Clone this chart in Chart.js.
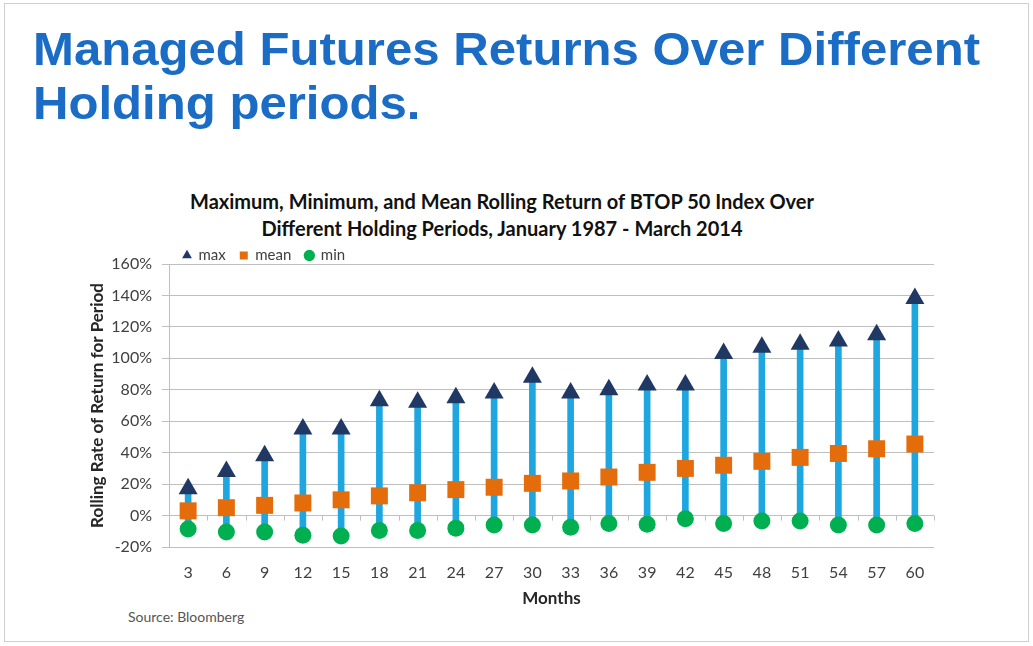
<!DOCTYPE html>
<html>
<head>
<meta charset="utf-8">
<script src="https://cdn.jsdelivr.net/npm/chart.js@4.4.1/dist/chart.umd.min.js"></script>
<style>
  html, body { margin: 0; padding: 0; background: #fff; }
  body { width: 1033px; height: 646px; position: relative; overflow: hidden; }
  .frame { position: absolute; left: 4px; top: 3px; width: 1023px; height: 637px; border: 1px solid #cfcfcf; }
  h1 { position: absolute; left: 33px; top: 22px; margin: 0; font: bold 47px/54px "Liberation Sans", Arial, sans-serif; color: #1a6cc4; white-space: nowrap; transform-origin: 0 0; }
  .sub { position: absolute; left: 0; width: 1004px; top: 188px; text-align: center; font: bold 20px/27px Lato, sans-serif; color: #111; }
  .source { position: absolute; left: 128px; top: 608px; font: 14px Lato, sans-serif; color: #555; }
  #wrap { position: absolute; left: 80px; top: 238px; width: 870px; height: 372px; }
</style>
</head>
<body>
<div class="frame"></div>
<h1 id="title">Managed Futures Returns Over Different<br>Holding periods.</h1>
<div class="sub">Maximum, Minimum, and Mean Rolling Return of BTOP 50 Index Over<br>Different Holding Periods, January 1987 - March 2014</div>
<div class="source">Source: Bloomberg</div>
<div id="wrap"><canvas id="chart"></canvas></div>
<script>
const months = ['3', '6', '9', '12', '15', '18', '21', '24', '27', '30', '33', '36', '39', '42', '45', '48', '51', '54', '57', '60'];
const maxReturn = [17, 28, 38, 55, 55, 73, 72, 75, 78, 88, 78, 80, 83, 83, 103, 107, 109, 111, 115, 138];
const meanReturn = [3, 5, 6.5, 8, 10, 12.5, 14.5, 16.5, 18, 20.5, 22, 24.5, 27.5, 30, 32, 34.5, 37, 39.5, 42.5, 45.5];
const minReturn = [-8.5, -10.5, -10.5, -12.5, -13, -9.5, -9.5, -8, -6, -6, -7.5, -5, -5.5, -2, -5, -3.5, -3.5, -6, -6, -5];
const yTicks = [-20, 0, 20, 40, 60, 80, 100, 120, 140, 160];

// squeeze the big heading to the width it has in the slide
const title = document.getElementById('title');
const firstLine = document.createElement('span');
firstLine.textContent = 'Managed Futures Returns Over Different';
firstLine.style.font = getComputedStyle(title).font;
document.body.appendChild(firstLine);
const w = firstLine.getBoundingClientRect().width;
firstLine.remove();
title.style.transform = 'scaleX(' + (947 / w) + ')';

// keep the legend row short so the plot starts right under it
const legendHeight = {
  id: 'legendHeight',
  beforeInit(chart) {
    const fit = chart.legend.fit;
    chart.legend.fit = function () {
      fit.call(this);
      this.height = 30;
    };
  }
};

const zeroTicks = {
  id: 'zeroTicks',
  afterDatasetsDraw(chart) {
    const x = chart.scales.x, y = chart.scales.y;
    const y0 = y.getPixelForValue(0);
    const ctx = chart.ctx;
    ctx.save();
    ctx.strokeStyle = '#bfbfbf';
    ctx.lineWidth = 1;
    ctx.beginPath();
    for (let i = 0; i <= months.length; i++) {
      const px = Math.round(x.getPixelForValue(i - 0.5)) + 0.5;
      ctx.moveTo(px, y0);
      ctx.lineTo(px, y0 + 5);
    }
    ctx.stroke();
    ctx.restore();
  }
};

const font = { family: 'Lato, sans-serif', size: 16 };
const boldFont = { family: 'Lato, sans-serif', size: 17, weight: 'bold' };

new Chart(document.getElementById('chart'), {
  type: 'bar',
  data: {
    labels: months,
    datasets: [
      { type: 'line', label: 'max', data: maxReturn, showLine: false, pointStyle: 'triangle', pointRadius: 11, pointHoverRadius: 11, backgroundColor: '#1f3864', borderColor: '#1f3864', borderWidth: 0 },
      { type: 'line', label: 'mean', data: meanReturn, showLine: false, pointStyle: 'rect', pointRadius: 12, pointHoverRadius: 12, backgroundColor: '#e46c0a', borderColor: '#e46c0a', borderWidth: 0 },
      { type: 'line', label: 'min', data: minReturn, showLine: false, pointStyle: 'circle', pointRadius: 8.5, pointHoverRadius: 8.5, backgroundColor: '#00b050', borderColor: '#00b050', borderWidth: 0 },
      { label: 'range', data: minReturn.map((v, i) => [v, maxReturn[i]]), backgroundColor: '#1ea6e0', barThickness: 6, borderWidth: 0 }
    ]
  },
  options: {
    responsive: true,
    maintainAspectRatio: false,
    animation: false,
    layout: { padding: { top: -4, right: 16, bottom: 1, left: 0 } },
    plugins: {
      tooltip: { enabled: false },
      legend: {
        position: 'top',
        align: 'start',
        fullSize: false,
        labels: {
          usePointStyle: true,
          boxWidth: 8,
          boxHeight: 8,
          padding: 14,
          color: '#404040',
          font: { family: 'Lato, sans-serif', size: 15 },
          filter: item => item.text !== 'range'
        }
      }
    },
    scales: {
      x: {
        offset: true,
        grid: { display: false, drawTicks: false },
        border: { display: false },
        ticks: { color: '#404040', font, padding: 16 },
        title: { display: true, text: 'Months', color: '#262626', font: boldFont, padding: { top: 2, bottom: 0 } },
        afterFit(scale) { scale.height = 62; }
      },
      y: {
        min: -20,
        max: 160,
        afterBuildTicks(scale) { scale.ticks = yTicks.map(value => ({ value })); },
        grid: { color: '#bfbfbf', tickLength: 7 },
        border: { display: true, color: '#bfbfbf' },
        ticks: { color: '#404040', font, padding: 10, callback: v => v + '%' },
        title: { display: true, text: 'Rolling Rate of Return for Period', color: '#262626', font: boldFont, padding: { top: 7, bottom: 0 } },
        afterFit(scale) { scale.width = 89; }
      }
    }
  },
  plugins: [zeroTicks, legendHeight]
});
</script>
</body>
</html>
